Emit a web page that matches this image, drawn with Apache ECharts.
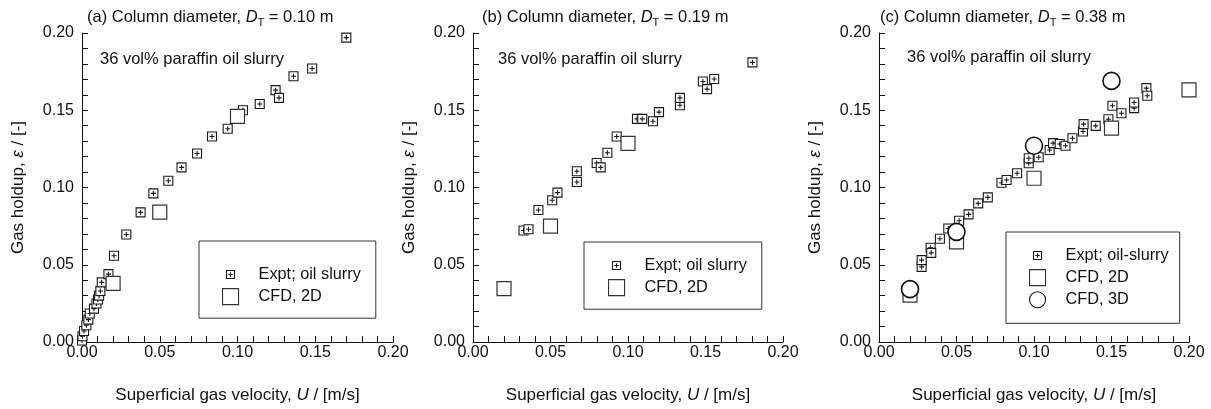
<!DOCTYPE html>
<html><head><meta charset="utf-8">
<script src="https://cdn.jsdelivr.net/npm/echarts@6/dist/echarts.min.js"></script>
<style>html,body{margin:0;padding:0;background:#fff}#c{width:1211px;height:409px}</style>
</head><body><div id="c"></div>
<script>
// ---- data ----
const tickLabels = ['0.00', '0.05', '0.10', '0.15', '0.20'];

const aExptX = [0.000, 0.0003, 0.0013, 0.0028, 0.0041, 0.005, 0.0077, 0.0093, 0.0103, 0.011, 0.0118, 0.0127, 0.017, 0.0206, 0.0285, 0.0377, 0.0459, 0.0555, 0.064, 0.074, 0.0836, 0.0937, 0.1035, 0.1143, 0.1245, 0.1267, 0.136, 0.148, 0.170];
const aExptY = [0.001, 0.0037, 0.0071, 0.0108, 0.0145, 0.0184, 0.0216, 0.0249, 0.0275, 0.030, 0.033, 0.0386, 0.0439, 0.0558, 0.0696, 0.0839, 0.0962, 0.1044, 0.113, 0.122, 0.133, 0.138, 0.150, 0.154, 0.163, 0.158, 0.172, 0.177, 0.197];
const aCfd2dX = [0.02, 0.05, 0.10];
const aCfd2dY = [0.038, 0.084, 0.146];

const bExptX = [0.0326, 0.0358, 0.0422, 0.0511, 0.0545, 0.067, 0.067, 0.0798, 0.0824, 0.0867, 0.0927, 0.1058, 0.1092, 0.1161, 0.120, 0.1335, 0.1335, 0.1483, 0.151, 0.1556, 0.1803];
const bExptY = [0.0722, 0.0730, 0.0854, 0.0917, 0.0967, 0.1036, 0.1105, 0.1159, 0.1130, 0.1225, 0.1330, 0.1444, 0.1444, 0.1429, 0.1488, 0.1532, 0.1580, 0.1686, 0.1637, 0.1702, 0.1810];
const bCfd2dX = [0.02, 0.05, 0.10];
const bCfd2dY = [0.0346, 0.075, 0.1286];

const cExptX = [0.0275, 0.0275, 0.0333, 0.0337, 0.0393, 0.0447, 0.0517, 0.0578, 0.064, 0.0702, 0.079, 0.0823, 0.0891, 0.0966, 0.0966, 0.103, 0.1101, 0.1123, 0.1166, 0.1203, 0.1248, 0.1316, 0.132, 0.1398, 0.148, 0.1506, 0.1564, 0.1646, 0.1646, 0.1725, 0.1731];
const cExptY = [0.0486, 0.053, 0.061, 0.0577, 0.0668, 0.0735, 0.0785, 0.0826, 0.0897, 0.0936, 0.1031, 0.1049, 0.1092, 0.1157, 0.1189, 0.1196, 0.1243, 0.1287, 0.1282, 0.127, 0.1319, 0.1362, 0.141, 0.1399, 0.1442, 0.1529, 0.1481, 0.1514, 0.155, 0.1643, 0.1594];
const cCfd2dX = [0.02, 0.05, 0.10, 0.15, 0.20];
const cCfd2dY = [0.0303, 0.0648, 0.106, 0.1384, 0.1632];
const cCfd3dX = [0.02, 0.05, 0.10, 0.15];
const cCfd3dY = [0.0342, 0.0713, 0.127, 0.169];

const panelTitles = ['(a) Column diameter, ', '(b) Column diameter, ', '(c) Column diameter, '];
const panelDiam = ['0.10 m', '0.19 m', '0.38 m'];
const noteText = '36 vol% paraffin oil slurry';
const exptNames = ['Expt; oil slurry', 'Expt; oil slurry', 'Expt; oil-slurry'];
const cfd2dName = 'CFD, 2D';
const cfd3dName = 'CFD, 3D';

// ---- build ----
const FONT = 'Liberation Sans, Arial, sans-serif';
const INK = '#111';
const EXPT_SYM = 'path://M0,0H10V10H0Z M5,2.2V7.8 M2.2,5H7.8';
const EXPT_ICON = 'path://M-5,-5 M0,0H10V10H0Z M5,2.2V7.8 M2.2,5H7.8 M15,15';

const zip = (xs, ys) => xs.map((x, i) => [x, ys[i]]);

const grids = [
  {left: 82, top: 33, width: 311, height: 309},
  {left: 473, top: 33, width: 310, height: 309},
  {left: 879, top: 33, width: 310, height: 309}
];

function fmt(v) {
  const k = Math.round(v * 100);
  return k % 5 === 0 ? tickLabels[k / 5] : '';
}

function axisCommon() {
  return {
    type: 'value', min: 0, max: 0.2, interval: 0.01,
    axisLine: {show: true, lineStyle: {color: INK, width: 1}},
    axisTick: {show: true, inside: true, length: 6, lineStyle: {color: INK, width: 1}},
    splitLine: {show: false}
  };
}

const nameStyle = {fontSize: 17, color: INK, fontFamily: FONT,
  rich: {i: {fontStyle: 'italic', fontSize: 17, color: INK, fontFamily: FONT}}};

const xAxis = grids.map((g, i) => Object.assign(axisCommon(), {
  gridIndex: i, position: 'bottom',
  name: 'Superficial gas velocity, {i|U} / [m/s]', nameLocation: 'middle', nameGap: 45,
  nameTextStyle: nameStyle,
  axisLabel: {formatter: fmt, fontSize: 16, color: INK, fontFamily: FONT, interval: 0, margin: 3}
}));

const yAxis = grids.map((g, i) => Object.assign(axisCommon(), {
  gridIndex: i, position: 'left',
  name: 'Gas holdup, {i|ε} / [-]', nameLocation: 'middle', nameGap: 55,
  nameTextStyle: nameStyle,
  axisLabel: {formatter: fmt, fontSize: 16, color: INK, fontFamily: FONT, interval: 0, margin: 8}
}));

function exptSeries(i, xs, ys) {
  return {type: 'scatter', name: exptNames[i], xAxisIndex: i, yAxisIndex: i,
    data: zip(xs, ys), symbol: EXPT_SYM, symbolSize: 9,
    itemStyle: {color: '#fff', borderColor: '#1a1a1a', borderWidth: 1.1, opacity: 1},
    emphasis: {disabled: true}, z: 2};
}
function cfd2dSeries(i, xs, ys) {
  return {type: 'scatter', name: cfd2dName, xAxisIndex: i, yAxisIndex: i,
    data: zip(xs, ys), symbol: 'rect', symbolSize: 14,
    itemStyle: {color: '#fff', borderColor: '#333', borderWidth: 1.2, opacity: 1},
    emphasis: {disabled: true}, z: 3};
}
function cfd3dSeries(i, xs, ys) {
  return {type: 'scatter', name: cfd3dName, xAxisIndex: i, yAxisIndex: i,
    data: zip(xs, ys), symbol: 'circle', symbolSize: 17,
    itemStyle: {color: '#fff', borderColor: '#111', borderWidth: 1.6, opacity: 1},
    emphasis: {disabled: true}, z: 4};
}

const series = [
  exptSeries(0, aExptX, aExptY), cfd2dSeries(0, aCfd2dX, aCfd2dY),
  exptSeries(1, bExptX, bExptY), cfd2dSeries(1, bCfd2dX, bCfd2dY),
  exptSeries(2, cExptX, cExptY), cfd2dSeries(2, cCfd2dX, cCfd2dY), cfd3dSeries(2, cCfd3dX, cCfd3dY)
];

const titleLefts = [87, 482, 880];
const noteLefts = [100, 498, 907];
const noteTops = [51, 51, 49];
const titles = [];
for (let i = 0; i < 3; i++) {
  titles.push({
    text: panelTitles[i] + '{i|D}{s|T}{n| = ' + panelDiam[i] + '}',
    left: titleLefts[i], top: 6, padding: 0,
    textStyle: {fontSize: 16.5, fontWeight: 'normal', color: INK, fontFamily: FONT, lineHeight: 22,
      rich: {
        i: {fontStyle: 'italic', fontSize: 16.5, color: INK, fontFamily: FONT, lineHeight: 22},
        s: {fontSize: 11, color: INK, fontFamily: FONT, lineHeight: 11, verticalAlign: 'bottom'},
        n: {fontSize: 16.5, color: INK, fontFamily: FONT, lineHeight: 22}
      }}
  });
  titles.push({
    text: noteText, left: noteLefts[i], top: noteTops[i], padding: 0,
    textStyle: {fontSize: 16.5, fontWeight: 'normal', color: INK, fontFamily: FONT}
  });
}

function legendFor(i, left, top, pad, names, icons) {
  return {
    orient: 'vertical', left: left, top: top, padding: pad,
    itemWidth: 16, itemHeight: 16, itemGap: 5,
    borderColor: '#333', borderWidth: 1, backgroundColor: '#fff',
    selectedMode: false,
    itemStyle: {borderWidth: 1.1},
    textStyle: {fontSize: 16.3, color: INK, fontFamily: FONT, padding: [0, 0, 0, 15]},
    data: names.map((n, k) => icons[k] ? {name: n, icon: icons[k]} : {name: n})
  };
}

const legend = [
  legendFor(0, 199, 241, [25, 15, 13, 23], [exptNames[0], cfd2dName], [EXPT_ICON, null]),
  legendFor(1, 584, 242, [15, 15, 13, 24], [exptNames[1], cfd2dName], [EXPT_ICON, null]),
  legendFor(2, 1006, 232, [15, 11, 15, 23], [exptNames[2], cfd2dName, cfd3dName], [EXPT_ICON, null, null])
];

const chart = echarts.init(document.getElementById('c'), null, {renderer: 'canvas'});
chart.setOption({
  animation: false,
  backgroundColor: '#fff',
  textStyle: {fontFamily: FONT},
  title: titles,
  legend: legend,
  grid: grids.map(g => Object.assign({containLabel: false}, g)),
  xAxis: xAxis,
  yAxis: yAxis,
  series: series
});
</script>
</body></html>
